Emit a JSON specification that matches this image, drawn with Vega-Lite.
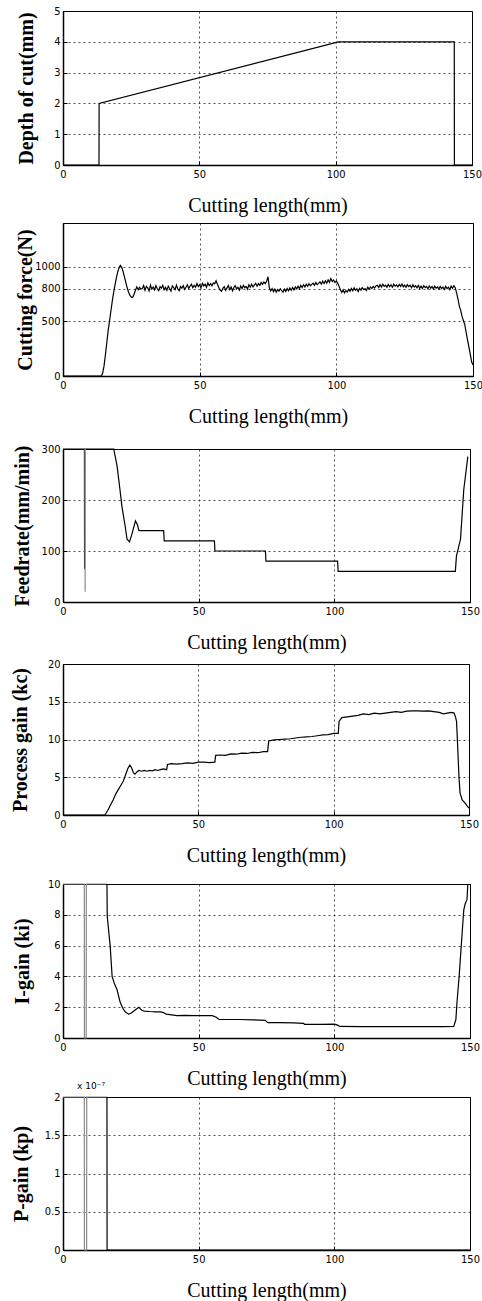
{
"$schema": "https://vega.github.io/schema/vega-lite/v6.json",
"padding": {"left": 9, "top": 4, "right": 3, "bottom": 0},
"background": "white",
"config": {
 "view": {"stroke": "black", "strokeWidth": 1},
 "axis": {"grid": true, "gridColor": "black", "gridDash": [2, 3], "gridOpacity": 0.85, "gridWidth": 0.8, "domainColor": "black", "domainWidth": 1.5, "tickColor": "black", "tickSize": -4, "labelPadding": 7, "labelColor": "black", "labelFont": "Liberation Sans Narrow, DejaVu Sans Condensed, sans-serif", "labelFontSize": 11, "labelOverlap": false, "titleColor": "black", "titleFont": "Liberation Serif, serif", "titleFontSize": 20},
 "axisX": {"titleFontWeight": "normal", "titlePadding": 16, "labelFlush": false},
 "axisY": {"titleFontWeight": "bold", "titlePadding": 4},
 "line": {"strokeWidth": 1.2, "color": "black"}
},
"spacing": 6,
"vconcat": [
 {
  "width": 409, "height": 154,
  "data": {"values": [
   {"x": 0, "y": 0}, {"x": 13.2, "y": 0}, {"x": 13.25, "y": 2}, {"x": 101, "y": 4}, {"x": 143.5, "y": 4}, {"x": 143.55, "y": 0}, {"x": 150, "y": 0}
  ]},
  "mark": {"type": "line"},
  "encoding": {
   "x": {"field": "x", "type": "quantitative", "scale": {"domain": [0, 150], "nice": false}, "axis": {"values": [0, 50, 100, 150], "title": "Cutting length(mm)"}},
   "y": {"field": "y", "type": "quantitative", "scale": {"domain": [0, 5], "nice": false}, "axis": {"values": [0, 1, 2, 3, 4, 5], "title": "Depth of cut(mm)", "minExtent": 23, "maxExtent": 23}}
  }
 },
 {
  "spacing": 15,
  "vconcat": [
   {
    "width": 410, "height": 153,
    "data": {"values": [
     {"x":0,"y":0},{"x":14,"y":0},{"x":14.5,"y":25},{"x":15,"y":90},{"x":15.5,"y":190},{"x":16,"y":300},{"x":16.5,"y":410},{"x":17,"y":500},{"x":17.5,"y":590},{"x":18,"y":680},{"x":18.5,"y":760},{"x":19,"y":830},{"x":19.5,"y":895},{"x":20,"y":950},{"x":20.5,"y":990},{"x":21,"y":1012},{"x":21.5,"y":995},{"x":22,"y":955},{"x":22.5,"y":905},{"x":23,"y":855},{"x":23.5,"y":805},{"x":24,"y":765},{"x":24.5,"y":738},{"x":25,"y":722},{"x":25.5,"y":720},{"x":26,"y":748},{"x":26.5,"y":785},{"x":27,"y":815},{"x":27.5,"y":790},{"x":28,"y":812},{"x":28.5,"y":795},
     {"x":29,"y":800},{"x":29.5,"y":828},{"x":30,"y":785},{"x":30.5,"y":820},{"x":31,"y":806},{"x":31.5,"y":778},{"x":32,"y":832},{"x":32.5,"y":795},{"x":33,"y":815},{"x":33.5,"y":788},
     {"x":34,"y":826},{"x":34.5,"y":798},{"x":35,"y":780},{"x":35.5,"y":818},{"x":36,"y":803},{"x":36.5,"y":830},{"x":37,"y":790},{"x":37.5,"y":812},{"x":38,"y":784},{"x":38.5,"y":822},
     {"x":39,"y":800},{"x":39.5,"y":776},{"x":40,"y":825},{"x":40.5,"y":808},{"x":41,"y":790},{"x":41.5,"y":832},{"x":42,"y":797},{"x":42.5,"y":781},{"x":43,"y":819},{"x":43.5,"y":804},
     {"x":44,"y":827},{"x":44.5,"y":793},{"x":45,"y":812},{"x":45.5,"y":835},{"x":46,"y":801},{"x":46.5,"y":823},{"x":47,"y":840},{"x":47.5,"y":808},{"x":48,"y":830},{"x":48.5,"y":812},
     {"x":49,"y":845},{"x":49.5,"y":818},{"x":50,"y":836},{"x":50.5,"y":806},{"x":51,"y":848},{"x":51.5,"y":825},{"x":52,"y":840},{"x":52.5,"y":812},{"x":53,"y":852},{"x":53.5,"y":828},
     {"x":54,"y":846},{"x":54.5,"y":825},{"x":55,"y":850},{"x":55.5,"y":845},{"x":56,"y":872},{"x":56.5,"y":840},{"x":57,"y":810},{"x":57.5,"y":786},{"x":58,"y":775},{"x":58.5,"y":802},
     {"x":59,"y":818},{"x":59.5,"y":784},{"x":60,"y":806},{"x":60.5,"y":828},{"x":61,"y":792},{"x":61.5,"y":815},{"x":62,"y":780},{"x":62.5,"y":810},{"x":63,"y":826},{"x":63.5,"y":798},
     {"x":64,"y":812},{"x":64.5,"y":786},{"x":65,"y":823},{"x":65.5,"y":800},{"x":66,"y":830},{"x":66.5,"y":808},{"x":67,"y":820},{"x":67.5,"y":795},{"x":68,"y":835},{"x":68.5,"y":812},
     {"x":69,"y":840},{"x":69.5,"y":815},{"x":70,"y":832},{"x":70.5,"y":848},{"x":71,"y":822},{"x":71.5,"y":845},{"x":72,"y":830},{"x":72.5,"y":856},{"x":73,"y":838},{"x":73.5,"y":860},
     {"x":74,"y":845},{"x":74.5,"y":866},{"x":75,"y":908},{"x":75.5,"y":805},{"x":76,"y":778},{"x":76.5,"y":800},{"x":77,"y":772},{"x":77.5,"y":795},{"x":78,"y":768},{"x":78.5,"y":790},
     {"x":79,"y":775},{"x":79.5,"y":798},{"x":80,"y":782},{"x":80.5,"y":768},{"x":81,"y":795},{"x":81.5,"y":774},{"x":82,"y":800},{"x":82.5,"y":780},{"x":83,"y":806},{"x":83.5,"y":785},
     {"x":84,"y":810},{"x":84.5,"y":788},{"x":85,"y":815},{"x":85.5,"y":798},{"x":86,"y":822},{"x":86.5,"y":800},{"x":87,"y":830},{"x":87.5,"y":810},{"x":88,"y":835},{"x":88.5,"y":815},
     {"x":89,"y":840},{"x":89.5,"y":820},{"x":90,"y":845},{"x":90.5,"y":826},{"x":91,"y":838},{"x":91.5,"y":850},{"x":92,"y":830},{"x":92.5,"y":855},{"x":93,"y":836},{"x":93.5,"y":848},
     {"x":94,"y":862},{"x":94.5,"y":840},{"x":95,"y":868},{"x":95.5,"y":846},{"x":96,"y":872},{"x":96.5,"y":850},{"x":97,"y":880},{"x":97.5,"y":858},{"x":98,"y":892},{"x":98.5,"y":865},
     {"x":99,"y":878},{"x":99.5,"y":855},{"x":100,"y":870},{"x":100.5,"y":850},{"x":101,"y":820},{"x":101.5,"y":790},{"x":102,"y":765},{"x":102.5,"y":788},{"x":103,"y":760},{"x":103.5,"y":782},
     {"x":104,"y":768},{"x":104.5,"y":792},{"x":105,"y":775},{"x":105.5,"y":800},{"x":106,"y":780},{"x":106.5,"y":806},{"x":107,"y":784},{"x":107.5,"y":798},{"x":108,"y":772},{"x":108.5,"y":802},
     {"x":109,"y":786},{"x":109.5,"y":808},{"x":110,"y":790},{"x":110.5,"y":800},{"x":111,"y":782},{"x":111.5,"y":812},{"x":112,"y":795},{"x":112.5,"y":815},{"x":113,"y":800},{"x":113.5,"y":820},
     {"x":114,"y":806},{"x":114.5,"y":824},{"x":115,"y":830},{"x":115.5,"y":810},{"x":116,"y":836},{"x":116.5,"y":815},{"x":117,"y":840},{"x":117.5,"y":820},{"x":118,"y":832},{"x":118.5,"y":812},
     {"x":119,"y":838},{"x":119.5,"y":818},{"x":120,"y":835},{"x":120.5,"y":812},{"x":121,"y":840},{"x":121.5,"y":822},{"x":122,"y":834},{"x":122.5,"y":815},{"x":123,"y":838},{"x":123.5,"y":820},
     {"x":124,"y":842},{"x":124.5,"y":816},{"x":125,"y":832},{"x":125.5,"y":812},{"x":126,"y":836},{"x":126.5,"y":818},{"x":127,"y":830},{"x":127.5,"y":808},{"x":128,"y":834},{"x":128.5,"y":814},
     {"x":129,"y":826},{"x":129.5,"y":806},{"x":130,"y":830},{"x":130.5,"y":802},{"x":131,"y":822},{"x":131.5,"y":800},{"x":132,"y":826},{"x":132.5,"y":808},{"x":133,"y":820},{"x":133.5,"y":798},
     {"x":134,"y":824},{"x":134.5,"y":803},{"x":135,"y":818},{"x":135.5,"y":796},{"x":136,"y":822},{"x":136.5,"y":805},{"x":137,"y":815},{"x":137.5,"y":795},{"x":138,"y":820},{"x":138.5,"y":800},
     {"x":139,"y":814},{"x":139.5,"y":792},{"x":140,"y":820},{"x":140.5,"y":800},{"x":141,"y":812},{"x":141.5,"y":790},{"x":142,"y":822},{"x":142.5,"y":802},{"x":143,"y":826},{"x":143.5,"y":808},
     {"x":144,"y":760},{"x":144.5,"y":705},{"x":145,"y":640},{"x":145.5,"y":600},{"x":146,"y":545},{"x":146.5,"y":505},{"x":147,"y":470},{"x":147.5,"y":400},{"x":148,"y":330},{"x":148.5,"y":265},{"x":149,"y":200},{"x":149.5,"y":130},{"x":150,"y":100}
    ]},
    "mark": {"type": "line", "strokeWidth": 1.2},
    "encoding": {
     "x": {"field": "x", "type": "quantitative", "scale": {"domain": [0, 150], "nice": false}, "axis": {"values": [0, 50, 100, 150], "title": "Cutting length(mm)"}},
     "y": {"field": "y", "type": "quantitative", "scale": {"domain": [0, 1400], "nice": false}, "axis": {"values": [0, 500, 800, 1000], "format": "d", "title": "Cutting force(N)", "minExtent": 24, "maxExtent": 24}}
    }
   },
   {
    "spacing": 4,
    "vconcat": [
     {
      "width": 407, "height": 153,
      "data": {"values": [
       {"x":0,"y":300,"s":"m"},{"x":7.9,"y":300,"s":"m"},{"x":7.95,"y":65,"s":"m"},{"x":8.0,"y":300,"s":"m"},{"x":18.7,"y":300,"s":"m"},{"x":19.9,"y":268,"s":"m"},{"x":21,"y":220,"s":"m"},{"x":21.7,"y":188,"s":"m"},{"x":22.9,"y":149,"s":"m"},{"x":23.6,"y":123,"s":"m"},{"x":24.5,"y":118,"s":"m"},{"x":25.4,"y":133,"s":"m"},{"x":26.7,"y":159,"s":"m"},{"x":27.4,"y":152,"s":"m"},{"x":28,"y":140,"s":"m"},{"x":37.1,"y":140,"s":"m"},{"x":37.3,"y":120,"s":"m"},{"x":55.8,"y":120,"s":"m"},{"x":56,"y":100,"s":"m"},{"x":74.6,"y":100,"s":"m"},{"x":74.8,"y":80,"s":"m"},{"x":101.2,"y":80,"s":"m"},{"x":101.4,"y":60,"s":"m"},{"x":144.6,"y":60,"s":"m"},{"x":145,"y":90,"s":"m"},{"x":146.5,"y":123,"s":"m"},{"x":147.7,"y":220,"s":"m"},{"x":148.9,"y":272,"s":"m"},{"x":149.2,"y":285,"s":"m"},
       {"x":8.1,"y":300,"s":"g"},{"x":8.15,"y":20,"s":"g"},{"x":8.2,"y":300,"s":"g"}
      ]},
      "mark": {"type": "line"},
      "encoding": {
       "x": {"field": "x", "type": "quantitative", "scale": {"domain": [0, 150], "nice": false}, "axis": {"values": [0, 50, 100, 150], "title": "Cutting length(mm)"}},
       "y": {"field": "y", "type": "quantitative", "scale": {"domain": [0, 300], "nice": false}, "axis": {"values": [0, 100, 200, 300], "title": "Feedrate(mm/min)", "minExtent": 27, "maxExtent": 27}},
       "color": {"field": "s", "type": "nominal", "scale": {"domain": ["m", "g"], "range": ["black", "#8a8a8a"]}, "legend": null}
      }
     },
     {
      "spacing": 11,
      "vconcat": [
       {
        "width": 406, "height": 151,
        "data": {"values": [
         {"x":0,"y":0},{"x":15.5,"y":0},{"x":16.5,"y":0.6},{"x":17.5,"y":1.3},{"x":18.6,"y":2.06},{"x":19.5,"y":2.8},{"x":20.5,"y":3.4},{"x":21.5,"y":4.0},{"x":22.3,"y":4.5},{"x":23.2,"y":5.4},{"x":24,"y":6.2},{"x":24.7,"y":6.6},{"x":25.3,"y":6.3},{"x":26,"y":5.6},{"x":26.6,"y":5.4},{"x":27.3,"y":5.7},{"x":28,"y":5.9},{"x":29,"y":5.8},{"x":30,"y":5.9},{"x":31,"y":5.8},{"x":32,"y":5.9},{"x":33,"y":5.85},{"x":34,"y":6.0},{"x":35,"y":5.9},{"x":36,"y":6.0},{"x":37,"y":6.1},{"x":38.3,"y":6.0},{"x":38.6,"y":6.7},{"x":40,"y":6.8},{"x":42,"y":6.75},{"x":44,"y":6.8},{"x":46,"y":6.9},{"x":48,"y":6.85},{"x":50,"y":7.0},{"x":52,"y":7.0},{"x":54,"y":6.95},{"x":56.1,"y":7.0},{"x":56.4,"y":7.9},{"x":58,"y":7.95},{"x":60,"y":7.9},{"x":62,"y":8.1},{"x":64,"y":8.05},{"x":66,"y":8.2},{"x":68,"y":8.15},{"x":70,"y":8.3},{"x":72,"y":8.25},{"x":74,"y":8.4},{"x":75.6,"y":8.4},{"x":76,"y":9.8},{"x":78,"y":9.95},{"x":80,"y":10.0},{"x":82,"y":10.05},{"x":84,"y":10.1},{"x":86,"y":10.2},{"x":88,"y":10.3},{"x":90,"y":10.35},{"x":92,"y":10.4},{"x":94,"y":10.5},{"x":96,"y":10.6},{"x":98,"y":10.65},{"x":100,"y":10.8},{"x":101.7,"y":10.8},{"x":102,"y":12.4},{"x":103,"y":12.9},{"x":105,"y":13.0},{"x":107,"y":13.1},{"x":109,"y":13.2},{"x":111,"y":13.4},{"x":113,"y":13.3},{"x":115,"y":13.5},{"x":117,"y":13.4},{"x":119,"y":13.5},{"x":121,"y":13.6},{"x":123,"y":13.7},{"x":125,"y":13.6},{"x":127,"y":13.75},{"x":129,"y":13.8},{"x":131,"y":13.8},{"x":133,"y":13.75},{"x":135,"y":13.8},{"x":137,"y":13.7},{"x":139,"y":13.6},{"x":140.5,"y":13.4},{"x":142,"y":13.5},{"x":143.5,"y":13.6},{"x":144.5,"y":13.5},{"x":145,"y":13.0},{"x":145.4,"y":12.4},{"x":145.7,"y":10},{"x":146,"y":7.5},{"x":146.3,"y":5},{"x":146.7,"y":2.9},{"x":147.5,"y":2.0},{"x":148.5,"y":1.6},{"x":149.5,"y":1.1},{"x":150,"y":0.9}
        ]},
        "mark": {"type": "line"},
        "encoding": {
         "x": {"field": "x", "type": "quantitative", "scale": {"domain": [0, 150], "nice": false}, "axis": {"values": [0, 50, 100, 150], "title": "Cutting length(mm)"}},
         "y": {"field": "y", "type": "quantitative", "scale": {"domain": [0, 20], "nice": false}, "axis": {"values": [0, 5, 10, 15, 20], "title": "Process gain (kc)", "minExtent": 29, "maxExtent": 29}}
        }
       },
       {
        "spacing": -8,
        "vconcat": [
         {
          "width": 407, "height": 154,
          "data": {"values": [
           {"x":0,"y":10,"s":"g"},{"x":7.85,"y":10,"s":"g"},{"x":7.9,"y":0,"s":"g"},{"x":8.55,"y":0,"s":"g"},{"x":8.6,"y":10,"s":"g"},{"x":16.2,"y":10,"s":"g"},
           {"x":16.2,"y":10,"s":"m"},{"x":16.3,"y":7.9,"s":"m"},{"x":17.4,"y":5.95,"s":"m"},{"x":18.1,"y":4.0,"s":"m"},{"x":19.0,"y":3.5,"s":"m"},{"x":19.9,"y":3.15,"s":"m"},{"x":21.1,"y":2.3,"s":"m"},{"x":22.0,"y":1.95,"s":"m"},{"x":22.9,"y":1.7,"s":"m"},{"x":24.2,"y":1.55,"s":"m"},{"x":25.2,"y":1.62,"s":"m"},{"x":26.1,"y":1.75,"s":"m"},{"x":27.2,"y":1.9,"s":"m"},{"x":27.9,"y":2.0,"s":"m"},{"x":29,"y":1.8,"s":"m"},{"x":30,"y":1.75,"s":"m"},{"x":32,"y":1.72,"s":"m"},{"x":34,"y":1.7,"s":"m"},{"x":36,"y":1.7,"s":"m"},{"x":37,"y":1.65,"s":"m"},{"x":38,"y":1.55,"s":"m"},{"x":40,"y":1.5,"s":"m"},{"x":42,"y":1.45,"s":"m"},{"x":45,"y":1.47,"s":"m"},{"x":48,"y":1.45,"s":"m"},{"x":50,"y":1.45,"s":"m"},{"x":53,"y":1.45,"s":"m"},{"x":55,"y":1.45,"s":"m"},{"x":56.5,"y":1.35,"s":"m"},{"x":57.5,"y":1.2,"s":"m"},{"x":60,"y":1.2,"s":"m"},{"x":65,"y":1.2,"s":"m"},{"x":70,"y":1.18,"s":"m"},{"x":74.5,"y":1.15,"s":"m"},{"x":75.5,"y":1.0,"s":"m"},{"x":80,"y":1.0,"s":"m"},{"x":85,"y":0.98,"s":"m"},{"x":88.7,"y":0.95,"s":"m"},{"x":89,"y":0.88,"s":"m"},{"x":95,"y":0.88,"s":"m"},{"x":100,"y":0.9,"s":"m"},{"x":101,"y":0.85,"s":"m"},{"x":102,"y":0.75,"s":"m"},{"x":110,"y":0.74,"s":"m"},{"x":120,"y":0.74,"s":"m"},{"x":130,"y":0.74,"s":"m"},{"x":140,"y":0.74,"s":"m"},{"x":144,"y":0.75,"s":"m"},{"x":144.8,"y":1.2,"s":"m"},{"x":145.2,"y":2.3,"s":"m"},{"x":146,"y":4,"s":"m"},{"x":146.5,"y":5.3,"s":"m"},{"x":147.1,"y":6.8,"s":"m"},{"x":147.7,"y":8.3,"s":"m"},{"x":148.2,"y":8.7,"s":"m"},{"x":148.9,"y":9.0,"s":"m"},{"x":149.2,"y":10,"s":"m"}
          ]},
          "mark": {"type": "line"},
          "encoding": {
           "x": {"field": "x", "type": "quantitative", "scale": {"domain": [0, 150], "nice": false}, "axis": {"values": [0, 50, 100, 150], "title": "Cutting length(mm)"}},
           "y": {"field": "y", "type": "quantitative", "scale": {"domain": [0, 10], "nice": false}, "axis": {"values": [0, 2, 4, 6, 8, 10], "title": "I-gain (ki)", "minExtent": 27, "maxExtent": 27}},
           "color": {"field": "s", "type": "nominal", "scale": {"domain": ["m", "g"], "range": ["black", "#8a8a8a"]}, "legend": null}
          }
         },
         {
          "width": 407, "height": 153,
          "title": {"text": "x 10⁻⁷", "anchor": "start", "frame": "group", "fontSize": 9, "font": "DejaVu Sans", "fontWeight": "normal", "offset": 0, "dx": 14, "color": "black"},
          "data": {"values": [
           {"x":0,"y":2e-7,"s":"g"},{"x":7.85,"y":2e-7,"s":"g"},{"x":7.9,"y":0,"s":"g"},{"x":8.7,"y":0,"s":"g"},{"x":8.75,"y":2e-7,"s":"g"},{"x":16.2,"y":2e-7,"s":"g"},
           {"x":16.2,"y":2e-7,"s":"m"},{"x":16.25,"y":0,"s":"m"},{"x":150,"y":0,"s":"m"}
          ]},
          "mark": {"type": "line"},
          "encoding": {
           "x": {"field": "x", "type": "quantitative", "scale": {"domain": [0, 150], "nice": false}, "axis": {"values": [0, 50, 100, 150], "title": "Cutting length(mm)"}},
           "y": {"field": "y", "type": "quantitative", "scale": {"domain": [0, 2e-7], "nice": false, "zero": true}, "axis": {"values": [0, 5e-8, 1e-7, 1.5e-7, 2e-7], "labelExpr": "format(datum.value * 1e7, '~g')", "title": "P-gain (kp)", "minExtent": 28, "maxExtent": 28}},
           "color": {"field": "s", "type": "nominal", "scale": {"domain": ["m", "g"], "range": ["black", "#8a8a8a"]}, "legend": null}
          }
         }
        ]
       }
      ]
     }
    ]
   }
  ]
 }
]
}
